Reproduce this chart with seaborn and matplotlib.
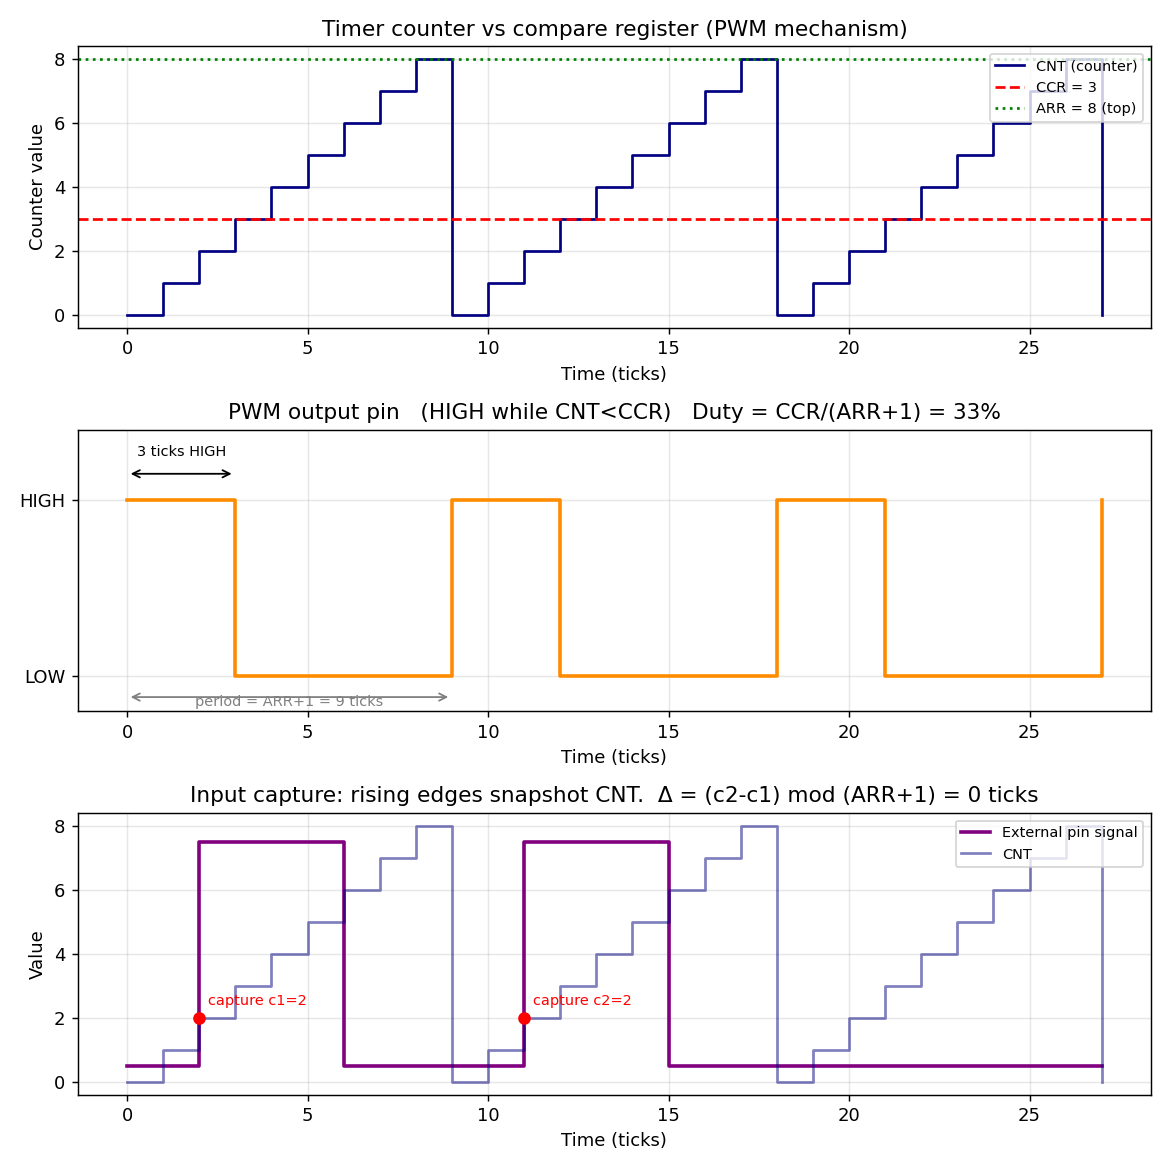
import matplotlib
matplotlib.use("Agg")
import matplotlib.pyplot as plt
import pandas as pd
import seaborn as sns

# --- data ---
ticks = list(range(28))
cnt = [0, 1, 2, 3, 4, 5, 6, 7, 8,
       0, 1, 2, 3, 4, 5, 6, 7, 8,
       0, 1, 2, 3, 4, 5, 6, 7, 8,
       0]
pwm = [1, 1, 1, 0, 0, 0, 0, 0, 0,
       1, 1, 1, 0, 0, 0, 0, 0, 0,
       1, 1, 1, 0, 0, 0, 0, 0, 0,
       1]
ext_pin = [0.5, 0.5, 7.5, 7.5, 7.5, 7.5, 0.5, 0.5, 0.5, 0.5, 0.5,
           7.5, 7.5, 7.5, 7.5, 0.5, 0.5, 0.5, 0.5, 0.5, 0.5, 0.5,
           0.5, 0.5, 0.5, 0.5, 0.5, 0.5]
ccr = 3
arr = 8
capture_t = [2, 11]
capture_val = [2, 2]
capture_labels = ["capture c1=2", "capture c2=2"]

df = pd.DataFrame({"t": ticks, "cnt": cnt, "pwm": pwm, "ext": ext_pin})

plt.rcParams["font.family"] = ["DejaVu Sans"]

fig, axes = plt.subplots(3, 1, figsize=(9, 9), dpi=130)

# top: counter vs compare register
ax = axes[0]
sns.lineplot(data=df, x="t", y="cnt", ax=ax, color="navy", lw=1.5,
             drawstyle="steps-post", label="CNT (counter)")
ax.axhline(ccr, color="red", ls="--", lw=1.5, label=f"CCR = {ccr}")
ax.axhline(arr, color="green", ls=":", lw=1.5, label=f"ARR = {arr} (top)")
ax.set_title("Timer counter vs compare register (PWM mechanism)")
ax.set_xlabel("Time (ticks)")
ax.set_ylabel("Counter value")
ax.legend(loc="upper right", fontsize=8)
ax.grid(True, alpha=0.3)

# middle: PWM output
ax = axes[1]
sns.lineplot(data=df, x="t", y="pwm", ax=ax, color="darkorange", lw=2,
             drawstyle="steps-post")
ax.set_ylim(-0.2, 1.4)
ax.set_yticks([0, 1])
ax.set_yticklabels(["LOW", "HIGH"])
ax.set_title("PWM output pin   (HIGH while CNT<CCR)   Duty = CCR/(ARR+1) = 33%")
ax.set_xlabel("Time (ticks)")
ax.set_ylabel("")
ax.annotate("", xy=(0, 1.15), xytext=(ccr, 1.15),
            arrowprops=dict(arrowstyle="<->", color="black"))
ax.text(ccr / 2, 1.25, f"{ccr} ticks HIGH", ha="center", fontsize=8)
ax.annotate("", xy=(0, -0.12), xytext=(arr + 1, -0.12),
            arrowprops=dict(arrowstyle="<->", color="gray"))
ax.text((arr + 1) / 2, -0.15, f"period = ARR+1 = {arr + 1} ticks",
        ha="center", va="center", fontsize=8, color="gray")
ax.grid(True, alpha=0.3)

# bottom: input capture
ax = axes[2]
sns.lineplot(data=df, x="t", y="ext", ax=ax, color="purple", lw=2,
             drawstyle="steps-post", label="External pin signal")
sns.lineplot(data=df, x="t", y="cnt", ax=ax, color="navy", lw=1.5, alpha=0.5,
             drawstyle="steps-post", label="CNT")
for tc, vc, lab in zip(capture_t, capture_val, capture_labels):
    ax.plot(tc, vc, "o", color="red", ms=6, zorder=5)
    ax.text(tc + 0.25, vc + 0.4, lab, color="red", fontsize=8)
ax.set_title("Input capture: rising edges snapshot CNT.  \u0394 = (c2-c1) mod (ARR+1) = 0 ticks")
ax.set_xlabel("Time (ticks)")
ax.set_ylabel("Value")
ax.legend(loc="upper right", fontsize=8)
ax.grid(True, alpha=0.3)

fig.tight_layout()
fig.savefig("out.png")
